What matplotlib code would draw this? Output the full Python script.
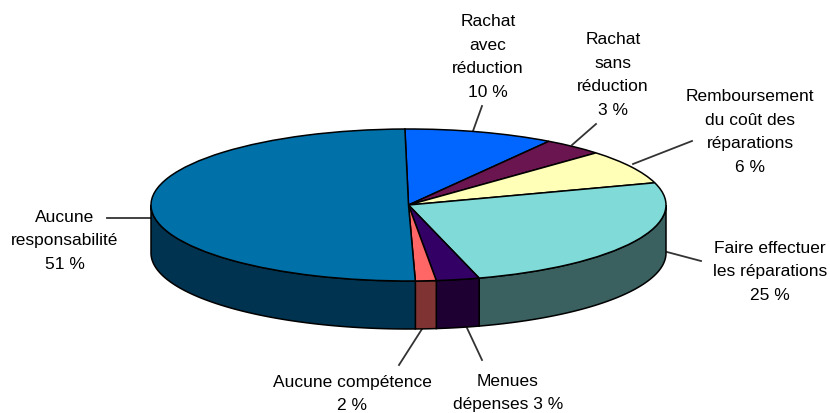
import numpy as np
import matplotlib
matplotlib.use('Agg')
import matplotlib.pyplot as plt

plt.rcParams['font.family'] = ['Liberation Sans', 'DejaVu Sans']

# clockwise from 12 o'clock, shares as measured on the drawn pie
labels = ["Rachat\navec\nréduction\n10 %", "Rachat\nsans\nréduction\n3 %",
          "Remboursement\ndu coût des\nréparations\n6 %", "Faire effectuer\nles réparations\n25 %",
          "Menues\ndépenses 3 %", "Aucune compétence\n2 %", "Aucune\nresponsabilité\n51 %"]
shares = [9.4, 3.8, 7.3, 25.3, 2.7, 1.3, 50.2]
top_colors = ['#0066FF', '#6B1550', '#FFFFB8', '#7FDAD8', '#330066', '#FF6666', '#0070A8']
side_colors = ['#003380', '#360B28', '#80805C', '#3A6060', '#1F0033', '#7F3333', '#003350']

# label anchors and leader lines, in image pixels
label_pos = [(488, 57), (613, 75), (750, 132), (770, 272), (508, 393), (352, 394), (65, 241)]
leaders = [((473, 132), (482, 107)), ((572, 146), (596, 125)), ((633, 165), (692, 142)),
           ((667, 253), (701, 262)), ((467, 329), (482, 361)), ((422, 330), (399, 366)),
           ((151, 219), (107, 219))]

W, H = 830, 414
CX, CY, RX, RY, DEPTH = 408.5, 206, 257.5, 76, 48


def to_data(x, y):
    return (x - CX) / RX, (CY - y) / RY


fig = plt.figure(figsize=(W / 100, H / 100), dpi=100)
ax = fig.add_axes([0, 0, 1, 1])

wedges, _ = ax.pie(shares, startangle=90.8, counterclock=False, colors=top_colors,
                   wedgeprops={'edgecolor': 'black', 'linewidth': 1.1, 'zorder': 3})
ax.set_aspect('auto')
ax.set_xlim(to_data(0, 0)[0], to_data(W, 0)[0])
ax.set_ylim(to_data(0, H)[1], to_data(0, 0)[1])
ax.axis('off')

# side wall, only where a slice reaches the front half of the ellipse
drop = DEPTH / RY
for w, c in zip(wedges, side_colors):
    a0, a1 = w.theta1 % 360, w.theta2 % 360
    if a1 <= a0:
        a1 += 360
    for lo, hi in [(180, 360), (540, 720)]:
        s, e = max(a0, lo), min(a1, hi)
        if e <= s:
            continue
        t = np.radians(np.linspace(s, e, 80))
        xs = np.cos(t)
        ys = np.sin(t)
        ax.fill(np.r_[xs, xs[::-1]], np.r_[ys, ys[::-1] - drop], facecolor=c,
                edgecolor='black', linewidth=1.1, zorder=2)

for (p0, p1) in leaders:
    d0, d1 = to_data(*p0), to_data(*p1)
    ax.plot([d0[0], d1[0]], [d0[1], d1[1]], color='#333333', lw=1.3, zorder=1)

for txt, (x, y) in zip(labels, label_pos):
    dx, dy = to_data(x, y)
    ax.text(dx, dy, txt, ha='center', va='center', ma='center', fontsize=12.5,
            linespacing=1.72, color='black')

fig.savefig('out.png', dpi=100)
